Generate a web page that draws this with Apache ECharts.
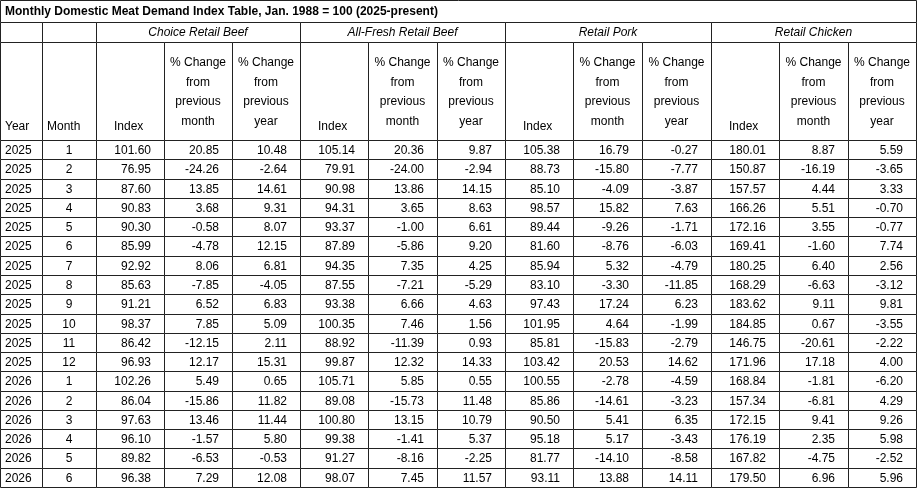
<!DOCTYPE html>
<html lang="en">
	<head>
		<meta charset="UTF-8" />
		<title>Monthly Domestic Meat Demand Index Table</title>
		<script src="https://cdn.jsdelivr.net/npm/echarts@6/dist/echarts.min.js"></script>
		<style>html,body{margin:0;background:#fff}</style>
	</head>
	<body>
		<div id="myChart" style="width: 921px; height: 488px"></div>

		<script>
			const title = "Monthly Domestic Meat Demand Index Table, Jan. 1988 = 100 (2025-present)";
			const groups = ["Choice Retail Beef", "All-Fresh Retail Beef", "Retail Pork", "Retail Chicken"];
			// year, month, then index / % month / % year for beef, all-fresh beef, pork, chicken
			const rows = [
				[2025, 1, "101.60", "20.85", "10.48", "105.14", "20.36", "9.87", "105.38", "16.79", "-0.27", "180.01", "8.87", "5.59"],
				[2025, 2, "76.95", "-24.26", "-2.64", "79.91", "-24.00", "-2.94", "88.73", "-15.80", "-7.77", "150.87", "-16.19", "-3.65"],
				[2025, 3, "87.60", "13.85", "14.61", "90.98", "13.86", "14.15", "85.10", "-4.09", "-3.87", "157.57", "4.44", "3.33"],
				[2025, 4, "90.83", "3.68", "9.31", "94.31", "3.65", "8.63", "98.57", "15.82", "7.63", "166.26", "5.51", "-0.70"],
				[2025, 5, "90.30", "-0.58", "8.07", "93.37", "-1.00", "6.61", "89.44", "-9.26", "-1.71", "172.16", "3.55", "-0.77"],
				[2025, 6, "85.99", "-4.78", "12.15", "87.89", "-5.86", "9.20", "81.60", "-8.76", "-6.03", "169.41", "-1.60", "7.74"],
				[2025, 7, "92.92", "8.06", "6.81", "94.35", "7.35", "4.25", "85.94", "5.32", "-4.79", "180.25", "6.40", "2.56"],
				[2025, 8, "85.63", "-7.85", "-4.05", "87.55", "-7.21", "-5.29", "83.10", "-3.30", "-11.85", "168.29", "-6.63", "-3.12"],
				[2025, 9, "91.21", "6.52", "6.83", "93.38", "6.66", "4.63", "97.43", "17.24", "6.23", "183.62", "9.11", "9.81"],
				[2025, 10, "98.37", "7.85", "5.09", "100.35", "7.46", "1.56", "101.95", "4.64", "-1.99", "184.85", "0.67", "-3.55"],
				[2025, 11, "86.42", "-12.15", "2.11", "88.92", "-11.39", "0.93", "85.81", "-15.83", "-2.79", "146.75", "-20.61", "-2.22"],
				[2025, 12, "96.93", "12.17", "15.31", "99.87", "12.32", "14.33", "103.42", "20.53", "14.62", "171.96", "17.18", "4.00"],
				[2026, 1, "102.26", "5.49", "0.65", "105.71", "5.85", "0.55", "100.55", "-2.78", "-4.59", "168.84", "-1.81", "-6.20"],
				[2026, 2, "86.04", "-15.86", "11.82", "89.08", "-15.73", "11.48", "85.86", "-14.61", "-3.23", "157.34", "-6.81", "4.29"],
				[2026, 3, "97.63", "13.46", "11.44", "100.80", "13.15", "10.79", "90.50", "5.41", "6.35", "172.15", "9.41", "9.26"],
				[2026, 4, "96.10", "-1.57", "5.80", "99.38", "-1.41", "5.37", "95.18", "5.17", "-3.43", "176.19", "2.35", "5.98"],
				[2026, 5, "89.82", "-6.53", "-0.53", "91.27", "-8.16", "-2.25", "81.77", "-14.10", "-8.58", "167.82", "-4.75", "-2.52"],
				[2026, 6, "96.38", "7.29", "12.08", "98.07", "7.45", "11.57", "93.11", "13.88", "14.11", "179.50", "6.96", "5.96"],
			];

			const colEdges = [0, 42, 96, 164, 232, 300, 368, 437, 505, 573, 642, 711, 779, 848, 916];
			const rowTop = 42, headBottom = 140, rowH = (487 - headBottom) / rows.length;

			// cells: [x0, x1, y0, y1, text, align, valign, kind]
			const cells = [];
			cells.push([0, 916, 0, 22, title, "left", "middle", "title"]);
			cells.push([0, 42, 22, rowTop, "", "left", "middle", "head"]);
			cells.push([42, 96, 22, rowTop, "", "left", "middle", "head"]);
			groups.forEach((g, i) => {
				cells.push([colEdges[2 + i * 3], colEdges[5 + i * 3], 22, rowTop, g, "center", "middle", "group"]);
			});
			cells.push([0, 42, rowTop, headBottom, "Year", "left", "bottom", "head"]);
			cells.push([42, 96, rowTop, headBottom, "Month", "left", "bottom", "head"]);
			groups.forEach((g, i) => {
				const c = 2 + i * 3;
				cells.push([colEdges[c], colEdges[c + 1], rowTop, headBottom, "Index", "index", "bottom", "head"]);
				cells.push([colEdges[c + 1], colEdges[c + 2], rowTop, headBottom, "% Change\nfrom\nprevious\nmonth", "center", "middle", "head"]);
				cells.push([colEdges[c + 2], colEdges[c + 3], rowTop, headBottom, "% Change\nfrom\nprevious\nyear", "center", "middle", "head"]);
			});
			rows.forEach((r, ri) => {
				const y0 = headBottom + ri * rowH;
				r.forEach((v, ci) => {
					const align = ci === 0 ? "left" : ci === 1 ? "center" : "right";
					cells.push([colEdges[ci], colEdges[ci + 1], y0, y0 + rowH, String(v), align, "middle", "data"]);
				});
			});

			const myChart = echarts.init(document.getElementById("myChart"));

			function renderCell(params, api) {
				const p0 = api.coord([api.value(0), api.value(2)]);
				const p1 = api.coord([api.value(1), api.value(3)]);
				const x0 = Math.round(p0[0]), y0 = Math.round(p0[1]);
				const x1 = Math.round(p1[0]), y1 = Math.round(p1[1]);
				const d = cells[params.dataIndex];
				const kind = d[7];
				let align = d[5], tx;
				if (align === "left") tx = x0 + 5;
				else if (align === "right") tx = x1 - 13;
				else if (align === "index") { tx = x0 + 18; align = "left"; }
				else tx = (x0 + x1) / 2;
				const ty = d[6] === "bottom" ? y1 - 4 : (y0 + y1) / 2 + 1;
				return {
					type: "group",
					children: [
						{
							type: "rect",
							shape: { x: x0 + 0.5, y: y0 + 0.5, width: x1 - x0, height: y1 - y0 },
							style: { fill: "#fff", stroke: "#222", lineWidth: 1 },
						},
						{
							type: "text",
							x: tx,
							y: ty,
							style: {
								text: d[4],
								align: align,
								verticalAlign: d[6],
								fill: "#000",
								font: (kind === "title" ? "bold " : kind === "group" ? "italic " : "") + "12px 'Liberation Sans', Arial, sans-serif",
								lineHeight: 19.5,
							},
						},
					],
				};
			}

			myChart.setOption({
				animation: false,
				grid: { left: 0, top: 0, width: 916, height: 488 },
				xAxis: { type: "value", min: 0, max: 916, show: false },
				yAxis: { type: "value", min: 0, max: 488, inverse: true, show: false },
				series: [
					{
						type: "custom",
						renderItem: renderCell,
						encode: { x: [0, 1], y: [2, 3] },
						data: cells.map((c) => c.slice(0, 4)),
					},
				],
			});
		</script>
	</body>
</html>
